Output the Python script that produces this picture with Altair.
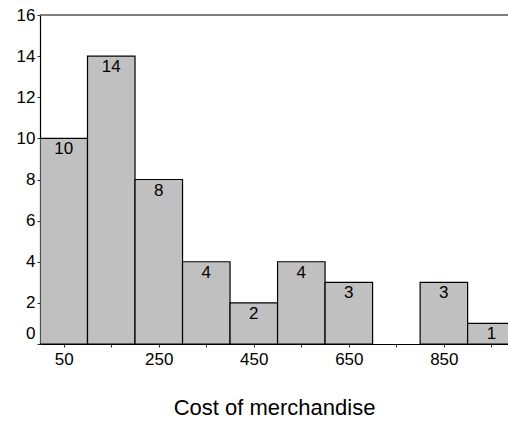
import altair as alt
import pandas as pd

bin_start = [0, 100, 200, 300, 400, 500, 600, 700, 800, 900]
counts = [10, 14, 8, 4, 2, 4, 3, 0, 3, 1]
x_ticks = [50, 150, 250, 350, 450, 550, 650, 750, 850, 950]
y_ticks = [0, 2, 4, 6, 8, 10, 12, 14, 16]

df = pd.DataFrame({"start": bin_start, "end": [b + 100 for b in bin_start], "count": counts})
df["mid"] = df["start"] + 50
df["zero"] = 0
bars_df = df[df["count"] > 0]

FONT = "Liberation Sans"

xs = alt.Scale(domain=[0, 985], nice=False, zero=False)
ys = alt.Scale(domain=[0, 16], nice=False)

bars = alt.Chart(bars_df).mark_bar(
    fill="#c0c0c0", stroke="black", strokeWidth=1.2, clip=True
).encode(
    x=alt.X("start:Q", scale=xs, axis=alt.Axis(
        values=x_ticks, title="Cost of merchandise",
        labelExpr="datum.value % 200 == 50 ? datum.label : ''",
        tickSize=3, tickColor="#333", domainColor="black", domainWidth=1.2,
        labelFont=FONT, labelFontSize=17, labelColor="black", labelPadding=4,
        titleFont=FONT, titleFontSize=22, titleFontWeight="normal", titleColor="black",
        titlePadding=30, grid=False)),
    x2="end:Q",
    y=alt.Y("count:Q", scale=ys, axis=alt.Axis(
        values=y_ticks, title=None, tickSize=3, tickColor="#333",
        domainColor="black", domainWidth=1.2,
        labelOffset={"condition": {"test": "datum.value == 0", "value": -11}, "value": 0},
        labelFont=FONT, labelFontSize=17, labelColor="black", labelPadding=2, grid=False)),
    y2="zero:Q",
)

labels = alt.Chart(bars_df).mark_text(
    baseline="top", dy=3, fontSize=17, font=FONT, color="black", clip=True
).encode(
    x=alt.X("mid:Q", scale=xs),
    y=alt.Y("count:Q", scale=ys),
    text="count:Q",
)

top = alt.Chart(pd.DataFrame({"y": [16]})).mark_rule(
    color="#555", strokeWidth=1.5
).encode(y=alt.Y("y:Q", scale=ys))

chart = alt.layer(bars, labels, top).properties(
    width=468, height=329,
    autosize=alt.AutoSizeParams(type="none"),
    padding={"left": 40, "top": 15, "right": 0, "bottom": 81},
).configure_view(stroke=None)

chart.save("out.html", embed_options={"renderer": "svg", "actions": False})
